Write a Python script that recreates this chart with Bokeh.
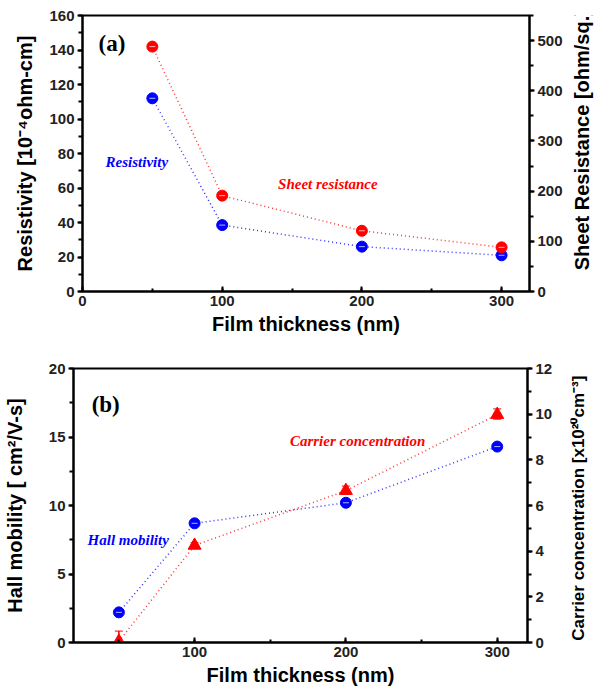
import math
from bokeh.plotting import figure
from bokeh.models import (Range1d, LinearAxis, SingleIntervalTicker, Label,
                          Whisker, ColumnDataSource)
from bokeh.layouts import column, row
from bokeh.embed import file_html
from bokeh.resources import INLINE

# ---------------- data ----------------
thickness = [50, 100, 200, 300]
resistivity = [112, 38.5, 26, 21]            # 10^-4 ohm-cm (left axis, panel a)
sheet_resistance = [488, 191, 121, 88]       # ohm/sq (right axis, panel a)
hall_mobility = [2.2, 8.7, 10.2, 14.3]       # cm2/V-s (left axis, panel b)
hall_err = [0.15, 0.15, 0.15, 0.2]
carrier_conc = [0.05, 4.25, 6.65, 9.98]      # x10^20 cm^-3 (right axis, panel b)
carrier_err_up = [0.45, 0.12, 0.2, 0.25]
carrier_err_dn = [0.05, 0.12, 0.15, 0.2]

BLUE = "#0000ff"
RED = "#ff0000"
SANS = "Liberation Sans"
SERIF = "Liberation Serif"
TICK_COLOR = "#222222"
MAIN_W = 570
SIDE_W = 30


def style_axis(ax, label, side):
    ax.axis_label = label
    ax.axis_label_text_font = SANS
    ax.axis_label_text_font_style = "bold"
    ax.axis_label_text_font_size = "20px"
    ax.axis_label_text_color = "black"
    ax.major_label_text_font = SANS
    ax.major_label_text_font_style = "bold"
    ax.major_label_text_font_size = "15px"
    ax.major_label_text_color = TICK_COLOR
    ax.axis_line_width = 2
    ax.axis_line_color = "black"
    ax.major_tick_line_width = 2
    ax.minor_tick_line_width = 2
    ax.major_tick_line_color = "black"
    ax.minor_tick_line_color = "black"
    if side == "x":
        ax.major_tick_in = 5
        ax.major_tick_out = 0
        ax.minor_tick_in = 3
        ax.minor_tick_out = 0
        ax.major_label_standoff = 4
        ax.axis_label_standoff = 4
    else:
        ax.major_tick_in = 0
        ax.major_tick_out = 5
        ax.minor_tick_in = 0
        ax.minor_tick_out = 4
        ax.major_label_standoff = 3


def side_title(text, height, x_frac, y_frac, size):
    # narrow strip holding the right-hand axis title, reading bottom-to-top
    s = figure(width=SIDE_W, height=height, x_range=Range1d(0, 1),
               y_range=Range1d(0, 1), output_backend="svg",
               toolbar_location=None, tools="", min_border=0)
    s.axis.visible = False
    s.grid.visible = False
    s.outline_line_color = None
    s.add_layout(Label(x=x_frac, y=y_frac, text=text, angle=math.pi / 2,
                       text_align="center", text_baseline="middle",
                       text_font=SANS, text_font_style="bold",
                       text_font_size=size, text_color="black"))
    return s


def base_fig(height, xr, yr, mb):
    p = figure(width=MAIN_W, height=height, x_range=xr, y_range=yr,
               output_backend="svg", toolbar_location=None, tools="",
               min_border_left=mb[0], min_border_right=mb[1],
               min_border_top=mb[2], min_border_bottom=mb[3])
    p.xgrid.visible = False
    p.ygrid.visible = False
    p.outline_line_color = "black"
    p.outline_line_width = 2
    p.background_fill_color = "white"
    p.border_fill_color = "white"
    return p


# ---------------- panel (a) ----------------
H1 = 340
p1 = base_fig(H1, Range1d(0, 320), Range1d(0, 160), (82, 41, 15, 49))
p1.extra_y_ranges = {"right": Range1d(0, 550)}
p1.xaxis.ticker = SingleIntervalTicker(interval=100, num_minor_ticks=2)
p1.yaxis.ticker = SingleIntervalTicker(interval=20, num_minor_ticks=2)
style_axis(p1.xaxis[0], "Film thickness (nm)", "x")
style_axis(p1.yaxis[0], "Resistivity [10\u207b\u2074ohm-cm]", "y")
p1.yaxis[0].axis_label_standoff = 10
ax_r1 = LinearAxis(y_range_name="right",
                   ticker=SingleIntervalTicker(interval=100, num_minor_ticks=2))
style_axis(ax_r1, None, "y")
p1.add_layout(ax_r1, "right")
t1 = side_title("Sheet Resistance [ohm/sq.]", H1, 11 / SIDE_W, 1 - 153 / H1, "20px")

p1.line(thickness, resistivity, color=BLUE, line_dash="1 3", line_width=1.5, alpha=0.8)
p1.line(thickness, sheet_resistance, y_range_name="right", color=RED,
        line_dash="1 3", line_width=1.5, alpha=0.8)
p1.scatter(thickness, resistivity, marker="circle", size=11, color=BLUE)
p1.scatter(thickness, sheet_resistance, y_range_name="right", marker="circle",
           size=11, color=RED)
p1.scatter(thickness, resistivity, marker="dash", size=6, line_color="white",
           line_width=1, alpha=0.7)
p1.scatter(thickness, sheet_resistance, y_range_name="right", marker="dash",
           size=6, line_color="white", line_width=1, alpha=0.7)

p1.add_layout(Label(x=11.5, y=143.8, text="(a)", text_font=SERIF,
                    text_font_style="bold", text_font_size="23px",
                    text_baseline="middle", text_color="black"))
p1.add_layout(Label(x=16.5, y=74.8, text="Resistivity", text_font=SERIF,
                    text_font_style="bold italic", text_font_size="15px",
                    text_baseline="middle", text_color=BLUE))
p1.add_layout(Label(x=140, y=62.6, text="Sheet resistance", text_font=SERIF,
                    text_font_style="bold italic", text_font_size="15px",
                    text_baseline="middle", text_color=RED))

# ---------------- panel (b) ----------------
H2 = 352
p2 = base_fig(H2, Range1d(20, 320), Range1d(0, 20), (73, 43, 28, 50))
p2.extra_y_ranges = {"right": Range1d(0, 12)}
p2.xaxis.ticker = SingleIntervalTicker(interval=100, num_minor_ticks=2)
p2.yaxis.ticker = SingleIntervalTicker(interval=5, num_minor_ticks=2)
style_axis(p2.xaxis[0], "Film thickness (nm)", "x")
style_axis(p2.yaxis[0], "Hall mobility [ cm\u00b2/V-s]", "y")
p2.yaxis[0].axis_label_standoff = 20
ax_r2 = LinearAxis(y_range_name="right",
                   ticker=SingleIntervalTicker(interval=2, num_minor_ticks=2))
style_axis(ax_r2, None, "y")
p2.add_layout(ax_r2, "right")
# the strip's frame is aligned with panel (b)'s frame, so y is a frame fraction
t2 = side_title("Carrier concentration [x10\u00b2\u2070cm\u207b\u00b3]", H2,
                8 / SIDE_W, 0.49, "17px")

src_h = ColumnDataSource(dict(
    x=thickness, y=hall_mobility,
    lo=[v - e for v, e in zip(hall_mobility, hall_err)],
    hi=[v + e for v, e in zip(hall_mobility, hall_err)]))
src_c = ColumnDataSource(dict(
    x=thickness, y=carrier_conc,
    lo=[v - e for v, e in zip(carrier_conc, carrier_err_dn)],
    hi=[v + e for v, e in zip(carrier_conc, carrier_err_up)]))

p2.line("x", "y", source=src_h, color=BLUE, line_dash="1 3", line_width=1.5, alpha=0.8)
p2.line("x", "y", source=src_c, y_range_name="right", color=RED,
        line_dash="1 3", line_width=1.5, alpha=0.8)

wh = Whisker(base="x", lower="lo", upper="hi", source=src_h, line_color=BLUE,
             line_width=1.5)
wh.upper_head.size = 8
wh.lower_head.size = 8
wh.upper_head.line_color = BLUE
wh.lower_head.line_color = BLUE
p2.add_layout(wh)
wc = Whisker(base="x", lower="lo", upper="hi", source=src_c, y_range_name="right",
             line_color=RED, line_width=1.5)
wc.upper_head.size = 8
wc.lower_head.size = 8
wc.upper_head.line_color = RED
wc.lower_head.line_color = RED
p2.add_layout(wc)

p2.scatter("x", "y", source=src_h, marker="circle", size=11, color=BLUE)
p2.scatter("x", "y", source=src_h, marker="dash", size=6, line_color="white",
           line_width=1, alpha=0.7)
p2.scatter("x", "y", source=src_c, y_range_name="right", marker="triangle",
           size=13, color=RED)

p2.add_layout(Label(x=32, y=17.4, text="(b)", text_font=SERIF,
                    text_font_style="bold", text_font_size="23px",
                    text_baseline="middle", text_color="black"))
p2.add_layout(Label(x=29.3, y=7.45, text="Hall mobility", text_font=SERIF,
                    text_font_style="bold italic", text_font_size="15px",
                    text_baseline="middle", text_color=BLUE))
p2.add_layout(Label(x=163, y=14.7, text="Carrier concentration", text_font=SERIF,
                    text_font_style="bold italic", text_font_size="15px",
                    text_baseline="middle", text_color=RED))

layout = column(row(p1, t1, spacing=0), row(p2, t2, spacing=0), spacing=0)
open("out.html", "w").write(file_html(layout, INLINE))
